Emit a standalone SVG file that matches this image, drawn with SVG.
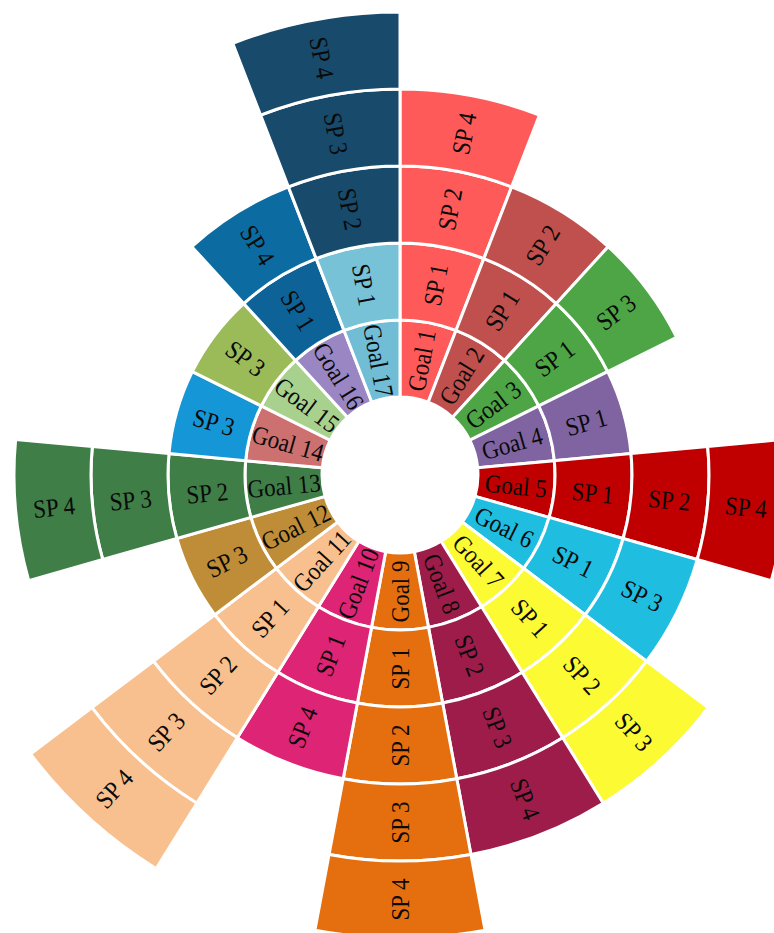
<svg xmlns="http://www.w3.org/2000/svg" xmlns:xlink="http://www.w3.org/1999/xlink" width="774" height="933" viewBox="0 0 774 933">
<style>
.c{stroke:#fff;stroke-width:3;stroke-linejoin:miter}
.t{font-family:"Liberation Serif","Times New Roman",serif;font-size:23px;text-anchor:middle;dominant-baseline:central;fill:#0a0a0a}
</style>
<defs>
<path id="r1" d="M0 -155A155 155 0 0 1 55.993 -144.533L28.177 -72.733A78 78 0 0 0 0 -78Z"/>
<path id="r2" d="M0 -232A232 232 0 0 1 83.808 -216.334L55.993 -144.533A155 155 0 0 0 0 -155Z"/>
<path id="r3" d="M0 -309A309 309 0 0 1 111.624 -288.134L83.808 -216.334A232 232 0 0 0 0 -232Z"/>
<path id="r4" d="M0 -386A386 386 0 0 1 139.439 -359.934L111.624 -288.134A309 309 0 0 0 0 -309Z"/>
<path id="r5" d="M0 -463A463 463 0 0 1 167.255 -431.734L139.439 -359.934A386 386 0 0 0 0 -386Z"/>
</defs>
<rect width="774" height="933" fill="#fff"/>
<g transform="translate(400 475)">
<g id="goal1">
<g transform="rotate(0)" fill="#FF5A5A"><use href="#r1" class="c"/><use href="#r2" class="c"/><use href="#r3" class="c"/><use href="#r4" class="c"/></g>
<g transform="rotate(-79.4118) scale(1 1.12)"><text class="t" x="116.5" y="0">Goal 1</text><text class="t" x="193.5" y="0">SP 1</text><text class="t" x="270.5" y="0">SP 2</text><text class="t" x="347.5" y="0">SP 4</text></g>
</g>
<g id="goal2">
<g transform="rotate(21.1765)" fill="#C0504D"><use href="#r1" class="c"/><use href="#r2" class="c"/><use href="#r3" class="c"/></g>
<g transform="rotate(-58.2353) scale(1 1.12)"><text class="t" x="116.5" y="0">Goal 2</text><text class="t" x="193.5" y="0">SP 1</text><text class="t" x="270.5" y="0">SP 2</text></g>
</g>
<g id="goal3">
<g transform="rotate(42.3529)" fill="#4EA546"><use href="#r1" class="c"/><use href="#r2" class="c"/><use href="#r3" class="c"/></g>
<g transform="rotate(-37.0588) scale(1 1.12)"><text class="t" x="116.5" y="0">Goal 3</text><text class="t" x="193.5" y="0">SP 1</text><text class="t" x="270.5" y="0">SP 3</text></g>
</g>
<g id="goal4">
<g transform="rotate(63.5294)" fill="#8064A2"><use href="#r1" class="c"/><use href="#r2" class="c"/></g>
<g transform="rotate(-15.8824) scale(1 1.12)"><text class="t" x="116.5" y="0">Goal 4</text><text class="t" x="193.5" y="0">SP 1</text></g>
</g>
<g id="goal5">
<g transform="rotate(84.7059)" fill="#C00000"><use href="#r1" class="c"/><use href="#r2" class="c"/><use href="#r3" class="c"/><use href="#r4" class="c"/></g>
<g transform="rotate(5.2941) scale(1 1.12)"><text class="t" x="116.5" y="0">Goal 5</text><text class="t" x="193.5" y="0">SP 1</text><text class="t" x="270.5" y="0">SP 2</text><text class="t" x="347.5" y="0">SP 4</text></g>
</g>
<g id="goal6">
<g transform="rotate(105.8824)" fill="#1FBDE0"><use href="#r1" class="c"/><use href="#r2" class="c"/><use href="#r3" class="c"/></g>
<g transform="rotate(26.4706) scale(1 1.12)"><text class="t" x="116.5" y="0">Goal 6</text><text class="t" x="193.5" y="0">SP 1</text><text class="t" x="270.5" y="0">SP 3</text></g>
</g>
<g id="goal7">
<g transform="rotate(127.0588)" fill="#FCFA33"><use href="#r1" class="c"/><use href="#r2" class="c"/><use href="#r3" class="c"/><use href="#r4" class="c"/></g>
<g transform="rotate(47.6471) scale(1 1.12)"><text class="t" x="116.5" y="0">Goal 7</text><text class="t" x="193.5" y="0">SP 1</text><text class="t" x="270.5" y="0">SP 2</text><text class="t" x="347.5" y="0">SP 3</text></g>
</g>
<g id="goal8">
<g transform="rotate(148.2353)" fill="#9E1C4A"><use href="#r1" class="c"/><use href="#r2" class="c"/><use href="#r3" class="c"/><use href="#r4" class="c"/></g>
<g transform="rotate(68.8235) scale(1 1.12)"><text class="t" x="116.5" y="0">Goal 8</text><text class="t" x="193.5" y="0">SP 2</text><text class="t" x="270.5" y="0">SP 3</text><text class="t" x="347.5" y="0">SP 4</text></g>
</g>
<g id="goal9">
<g transform="rotate(169.4118)" fill="#E56E0F"><use href="#r1" class="c"/><use href="#r2" class="c"/><use href="#r3" class="c"/><use href="#r4" class="c"/><use href="#r5" class="c"/></g>
<g transform="rotate(90) scale(1 1.12)"><text class="t" x="116.5" y="0" transform="rotate(180 116.5 0)">Goal 9</text><text class="t" x="193.5" y="0" transform="rotate(180 193.5 0)">SP 1</text><text class="t" x="270.5" y="0" transform="rotate(180 270.5 0)">SP 2</text><text class="t" x="347.5" y="0" transform="rotate(180 347.5 0)">SP 3</text><text class="t" x="424.5" y="0" transform="rotate(180 424.5 0)">SP 4</text></g>
</g>
<g id="goal10">
<g transform="rotate(190.5882)" fill="#DE2474"><use href="#r1" class="c"/><use href="#r2" class="c"/><use href="#r3" class="c"/></g>
<g transform="rotate(111.1765) scale(1 1.12)"><text class="t" x="116.5" y="0" transform="rotate(180 116.5 0)">Goal 10</text><text class="t" x="193.5" y="0" transform="rotate(180 193.5 0)">SP 1</text><text class="t" x="270.5" y="0" transform="rotate(180 270.5 0)">SP 4</text></g>
</g>
<g id="goal11">
<g transform="rotate(211.7647)" fill="#F9C08F"><use href="#r1" class="c"/><use href="#r2" class="c"/><use href="#r3" class="c"/><use href="#r4" class="c"/><use href="#r5" class="c"/></g>
<g transform="rotate(132.3529) scale(1 1.12)"><text class="t" x="116.5" y="0" transform="rotate(180 116.5 0)">Goal 11</text><text class="t" x="193.5" y="0" transform="rotate(180 193.5 0)">SP 1</text><text class="t" x="270.5" y="0" transform="rotate(180 270.5 0)">SP 2</text><text class="t" x="347.5" y="0" transform="rotate(180 347.5 0)">SP 3</text><text class="t" x="424.5" y="0" transform="rotate(180 424.5 0)">SP 4</text></g>
</g>
<g id="goal12">
<g transform="rotate(232.9412)" fill="#BF8D37"><use href="#r1" class="c"/><use href="#r2" class="c"/></g>
<g transform="rotate(153.5294) scale(1 1.12)"><text class="t" x="116.5" y="0" transform="rotate(180 116.5 0)">Goal 12</text><text class="t" x="193.5" y="0" transform="rotate(180 193.5 0)">SP 3</text></g>
</g>
<g id="goal13">
<g transform="rotate(254.1176)" fill="#3F7E47"><use href="#r1" class="c"/><use href="#r2" class="c"/><use href="#r3" class="c"/><use href="#r4" class="c"/></g>
<g transform="rotate(174.7059) scale(1 1.12)"><text class="t" x="116.5" y="0" transform="rotate(180 116.5 0)">Goal 13</text><text class="t" x="193.5" y="0" transform="rotate(180 193.5 0)">SP 2</text><text class="t" x="270.5" y="0" transform="rotate(180 270.5 0)">SP 3</text><text class="t" x="347.5" y="0" transform="rotate(180 347.5 0)">SP 4</text></g>
</g>
<g id="goal14">
<g transform="rotate(275.2941)"><use href="#r1" class="c" fill="#CD7170"/><use href="#r2" class="c" fill="#1597D7"/></g>
<g transform="rotate(195.8824) scale(1 1.12)"><text class="t" x="116.5" y="0" transform="rotate(180 116.5 0)">Goal 14</text><text class="t" x="193.5" y="0" transform="rotate(180 193.5 0)">SP 3</text></g>
</g>
<g id="goal15">
<g transform="rotate(296.4706)"><use href="#r1" class="c" fill="#A9D18E"/><use href="#r2" class="c" fill="#9BBB59"/></g>
<g transform="rotate(217.0588) scale(1 1.12)"><text class="t" x="116.5" y="0" transform="rotate(180 116.5 0)">Goal 15</text><text class="t" x="193.5" y="0" transform="rotate(180 193.5 0)">SP 3</text></g>
</g>
<g id="goal16">
<g transform="rotate(317.6471)"><use href="#r1" class="c" fill="#9A86C2"/><use href="#r2" class="c" fill="#0D6398"/><use href="#r3" class="c" fill="#0C6CA1"/></g>
<g transform="rotate(238.2353) scale(1 1.12)"><text class="t" x="116.5" y="0" transform="rotate(180 116.5 0)">Goal 16</text><text class="t" x="193.5" y="0" transform="rotate(180 193.5 0)">SP 1</text><text class="t" x="270.5" y="0" transform="rotate(180 270.5 0)">SP 4</text></g>
</g>
<g id="goal17">
<g transform="rotate(338.8235)"><use href="#r1" class="c" fill="#70BDD5"/><use href="#r2" class="c" fill="#78C2D8"/><use href="#r3" class="c" fill="#174A6B"/><use href="#r4" class="c" fill="#174A6B"/><use href="#r5" class="c" fill="#174A6B"/></g>
<g transform="rotate(259.4118) scale(1 1.12)"><text class="t" x="116.5" y="0" transform="rotate(180 116.5 0)">Goal 17</text><text class="t" x="193.5" y="0" transform="rotate(180 193.5 0)">SP 1</text><text class="t" x="270.5" y="0" transform="rotate(180 270.5 0)">SP 2</text><text class="t" x="347.5" y="0" transform="rotate(180 347.5 0)">SP 3</text><text class="t" x="424.5" y="0" transform="rotate(180 424.5 0)">SP 4</text></g>
</g>
</g>
</svg>
